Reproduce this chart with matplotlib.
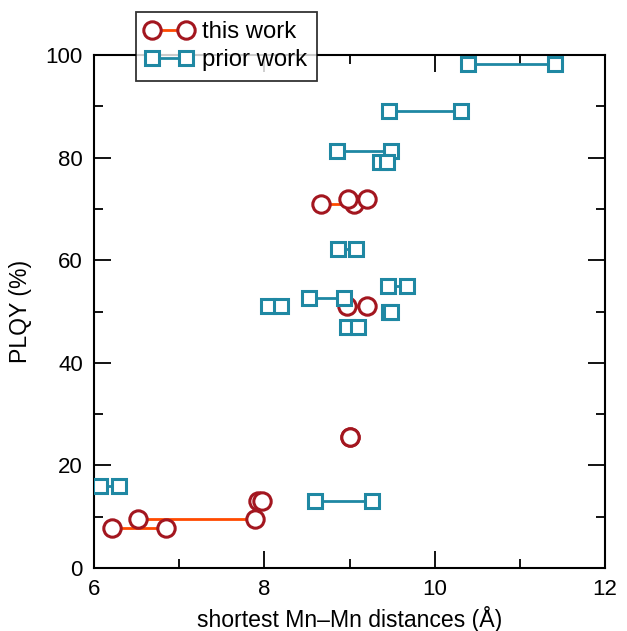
import matplotlib
matplotlib.use("Agg")
import matplotlib.pyplot as plt
from matplotlib.ticker import MultipleLocator

plt.rcParams['font.family'] = ['Liberation Sans', 'DejaVu Sans']

# this work: pairs (x1, x2) at PLQY y
this_x1 = [6.21, 6.52, 7.92, 8.66, 8.98, 8.97, 9.01]
this_x2 = [6.85, 7.89, 7.97, 9.05, 9.20, 9.20, 9.01]
this_y = [7.8, 9.5, 13.0, 71.0, 72.0, 51.1, 25.5]

# prior work: pairs (x1, x2) at PLQY y
prior_x1 = [6.07, 8.59, 8.04, 8.52, 8.97, 9.45, 9.46, 8.86, 8.85, 9.36, 9.46, 10.39]
prior_x2 = [6.29, 9.26, 8.19, 8.93, 9.10, 9.68, 9.49, 9.07, 9.49, 9.44, 10.31, 11.41]
prior_y = [16.0, 13.0, 51.0, 52.7, 47.0, 55.0, 50.0, 62.1, 81.2, 79.1, 89.1, 98.2]

red = '#A3161F'
orange = '#FF4A00'
teal = '#1F88A3'

fig = plt.figure(figsize=(6.27, 6.31), dpi=100)
ax = fig.add_axes([0.15, 0.0998, 0.815, 0.8130])

for x1, x2, y in zip(this_x1, this_x2, this_y):
    ax.plot([x1, x2], [y, y], color=orange, lw=2.0, zorder=2)
    ax.plot([x1, x2], [y, y], ls='none', marker='o', ms=12.5, mfc='white',
            mec=red, mew=2.2, zorder=3)
for x1, x2, y in zip(prior_x1, prior_x2, prior_y):
    ax.plot([x1, x2], [y, y], color=teal, lw=2.0, zorder=4)
    ax.plot([x1, x2], [y, y], ls='none', marker='s', ms=10.5, mfc='white',
            mec=teal, mew=2.2, zorder=5)

lh_this, = ax.plot([], [], color=orange, lw=2.0, marker='o', ms=12.5, mfc='white', mec=red, mew=2.2)
lh_prior, = ax.plot([], [], color=teal, lw=2.0, marker='s', ms=10.5, mfc='white', mec=teal, mew=2.2)

ax.set_xlim(6, 12)
ax.set_ylim(0, 100)
ax.xaxis.set_major_locator(MultipleLocator(2))
ax.xaxis.set_minor_locator(MultipleLocator(1))
ax.yaxis.set_major_locator(MultipleLocator(20))
ax.yaxis.set_minor_locator(MultipleLocator(10))
ax.tick_params(which='both', direction='in', top=True, right=True, width=1.3, labelsize=16, pad=8)
ax.tick_params(which='major', length=12)
ax.tick_params(which='minor', length=6.5)
for s in ax.spines.values():
    s.set_linewidth(1.5)

ax.set_xlabel('shortest Mn\u2013Mn distances (\u00c5)', fontsize=16.6, labelpad=4)
ax.set_ylabel('PLQY (%)', fontsize=16.6, labelpad=10)

leg = fig.legend([lh_this, lh_prior], ['this work', 'prior work'], numpoints=2,
                 loc='upper left', bbox_to_anchor=(135.5 / 627, 1 - 11.5 / 631),
                 fontsize=17.2, frameon=True, fancybox=False, edgecolor='black',
                 handlelength=2.0, handletextpad=0.4, borderpad=0.4, labelspacing=0.25,
                 borderaxespad=0)
leg.get_frame().set_linewidth(1.3)
leg.set_zorder(10)

fig.savefig('out.png', dpi=100)
